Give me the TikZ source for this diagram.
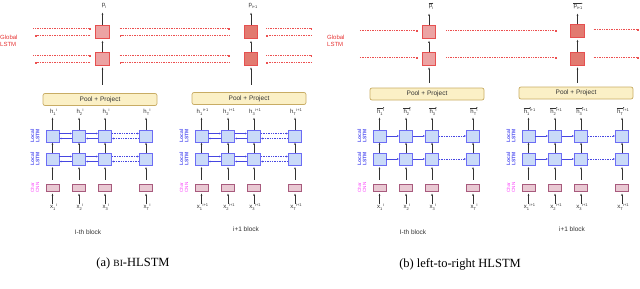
\documentclass[tikz,border=0pt]{standalone}
\usepackage{fontspec}
\setmainfont{Liberation Sans}
\newfontfamily\capfont{Liberation Serif}
\usetikzlibrary{arrows.meta,calc}
\definecolor{lstmF}{RGB}{201,218,248}
\definecolor{lstmB}{RGB}{108,108,245}
\definecolor{harC}{RGB}{70,70,225}
\definecolor{cnnF}{RGB}{233,201,211}
\definecolor{cnnB}{RGB}{168,90,125}
\definecolor{poolF}{RGB}{251,240,198}
\definecolor{poolB}{RGB}{200,172,100}
\definecolor{gFa}{RGB}{236,163,163}
\definecolor{gFb}{RGB}{226,122,112}
\definecolor{gB}{RGB}{230,80,80}
\definecolor{gLine}{RGB}{236,80,80}
\definecolor{locC}{RGB}{80,80,240}
\definecolor{chrC}{RGB}{250,60,250}
\definecolor{glbC}{RGB}{230,50,50}
\definecolor{txtC}{RGB}{50,50,50}
\newcommand\subx[1]{\raisebox{-1.3pt}{\fontsize{4}{4}\selectfont#1}}
\newcommand\supx[1]{\kern0.5pt\raisebox{2.3pt}{\fontsize{4}{4}\selectfont#1}}
\newcommand\slab[3]{#1\subx{#2}\supx{#3}}
\tikzset{
  lstm/.style={draw=lstmB,fill=lstmF,line width=0.8pt,minimum width=13pt,minimum height=12pt,inner sep=0pt},
  cnn/.style={draw=cnnB,fill=cnnF,line width=0.7pt,minimum width=13pt,minimum height=7pt,inner sep=0pt},
  pool/.style={draw=poolB,fill=poolF,line width=0.7pt,rounded corners=2pt,minimum width=114pt,minimum height=12pt,inner sep=0pt,font=\fontsize{6.5}{7}\selectfont,text=txtC},
  gboxa/.style={draw=gB,fill=gFa,line width=0.8pt,minimum width=13.5pt,minimum height=12.5pt,inner sep=0pt},
  gboxb/.style={draw=gB,fill=gFb,line width=0.8pt,minimum width=13.5pt,minimum height=12.5pt,inner sep=0pt},
  lab/.style={inner sep=0pt,font=\fontsize{6}{7}\selectfont,text=txtC},
  loclab/.style={inner sep=0pt,rotate=90,align=center,font=\fontsize{5}{5.4}\selectfont\bfseries,text=locC},
  chrlab/.style={inner sep=0pt,rotate=90,align=center,font=\fontsize{4.6}{5}\selectfont,text=chrC},
  glab/.style={inner sep=0pt,align=left,font=\fontsize{6}{6.8}\selectfont,text=glbC},
  blklab/.style={inner sep=0pt,font=\fontsize{6.5}{7}\selectfont,text=txtC},
  caplab/.style={inner sep=0pt,font=\capfont\fontsize{12.5}{14}\selectfont,text=black},
  varr/.style={draw=txtC,line width=0.5pt,-{Latex[length=2.2pt,width=1.8pt]}},
  vecar/.style={draw=txtC,line width=0.35pt,-{Latex[length=1.3pt,width=1.4pt]}},
  harr/.style={draw=harC,line width=0.6pt,-{Latex[length=2pt,width=2pt]}},
  hsolid/.style={},
  hdots/.style={dash pattern=on 1pt off 0.7pt},
  gdot/.style={draw=gLine,line width=0.9pt,dash pattern=on 1pt off 0.7pt,-{Square[length=1.6pt,width=1.8pt,fill=glbC]}},
}
% #1 prefix, #2 x0, #3 pool centre y, #4 superscript, #5 1=bi 0=left-to-right
\newcommand\hblock[5]{%
  \node[pool] (#1pool) at (#2+57,#3) {Pool + Project};
  \node[loclab] (#1lt) at (#2-8,136) {Local\\LSTM};
  \node[loclab] (#1lb) at (#2-8,159) {Local\\LSTM};
  \node[chrlab] (#1lc) at (#2-8,187.5) {Char\\CNN};
  \foreach \dx/\ci/\cs in {9.5/1/1,36/2/2,62/3/3,103/4/T}{
    \node[lstm] (#1t\ci) at (#2+\dx,136) {};
    \node[lstm] (#1b\ci) at (#2+\dx,159) {};
    \node[cnn] (#1c\ci) at (#2+\dx,187.5) {};
    \node[lab] (#1h\ci) at (#2+\dx+1,112) {\slab{h}{\cs}{#4}};
    \ifnum#5=0
      \draw[vecar] ([yshift=4.2pt]#1h\ci.west) -- ++(7.5,0);
    \fi
    \node[lab] (#1x\ci) at (#2+\dx+1,207) {\slab{x}{\cs}{#4}};
    \draw[varr,shorten >=2pt] (#1t\ci.north) -- (#1t\ci.north |- #1h\ci.south);
    \draw[varr] (#1b\ci.north) -- (#1t\ci.south);
    \draw[varr,shorten >=1.5pt] ([yshift=4pt]#1c\ci.north) -- (#1b\ci.south);
    \draw[varr,shorten >=2pt] (#1c\ci.south |- #1x\ci.north) -- (#1c\ci.south);
  }
  \foreach \r in {t,b}{
    \foreach \a/\b/\st in {1/2/hsolid,2/3/hsolid,3/4/hdots}{
      \ifnum#5=1
        \draw[harr,\st] ([yshift=2.5pt]#1\r\a.east) -- ([yshift=2.5pt]#1\r\b.west);
        \draw[harr,\st] ([yshift=-2.5pt]#1\r\b.west) -- ([yshift=-2.5pt]#1\r\a.east);
      \else
        \draw[harr,\st] (#1\r\a.east) -- (#1\r\b.west);
      \fi
    }
  }
}
\begin{document}
\begin{tikzpicture}[x=1pt,y=-1pt]
\useasboundingbox (0,0) rectangle (640,289);
% ---------------- panel (a)
\hblock{aL}{43}{99.5}{i}{1}
\hblock{aR}{192}{98.5}{i+1}{1}
\node[gboxa] (gA1) at (102.5,32) {};
\node[gboxa] (gA2) at (102.5,59) {};
\node[gboxb] (gB1) at (251,32) {};
\node[gboxb] (gB2) at (251,59) {};
\node[lab] (pA) at (104,6) {p\subx{i}};
\node[lab] (pB) at (253,6) {p\subx{i+1}};
\node[glab,anchor=west] (glA) at (0,41) {Global\\LSTM};
\foreach \g/\p in {A/pA,B/pB}{
  \draw[varr,shorten >=4pt] (g\g1.north) -- (g\g1.north |- \p.south);
  \draw[varr,shorten >=2pt] (g\g2.north) -- (g\g1.south);
  \draw[varr,shorten >=1.5pt] ([yshift=-19pt]g\g2.south) -- (g\g2.south);
}
\foreach \k in {1,2}{
  \draw[gdot] ([xshift=-62pt,yshift=3.5pt]gA\k.west) -- ([xshift=-5pt,yshift=3.5pt]gA\k.west);
  \draw[gdot] ([xshift=-5pt,yshift=-3.5pt]gA\k.west) -- ([xshift=-60pt,yshift=-3.5pt]gA\k.west);
  \draw[gdot,shorten <=10pt,shorten >=14pt] ([yshift=3.5pt]gA\k.east) -- ([yshift=3.5pt]gB\k.west);
  \draw[gdot,shorten <=14pt,shorten >=10pt] ([yshift=-3.5pt]gB\k.west) -- ([yshift=-3.5pt]gA\k.east);
  \draw[gdot] ([xshift=8pt,yshift=3.5pt]gB\k.east) -- ([xshift=54pt,yshift=3.5pt]gB\k.east);
  \draw[gdot] ([xshift=54pt,yshift=-3.5pt]gB\k.east) -- ([xshift=8pt,yshift=-3.5pt]gB\k.east);
}
\node[blklab] (blA1) at (88,232) {I-th block};
\node[blklab] (blA2) at (246,229) {i+1 block};
\node[caplab] (capA) at (133,263) {(a) {\fontsize{9.5}{10}\selectfont BI}-HLSTM};
% ---------------- panel (b)
\hblock{bL}{370}{94}{i}{0}
\hblock{bR}{519}{93}{i+1}{0}
\node[gboxa] (gC1) at (429,32) {};
\node[gboxa] (gC2) at (429,59) {};
\node[gboxb] (gD1) at (577.5,31) {};
\node[gboxb] (gD2) at (577.5,59) {};
\node[lab] (pC) at (431,7) {p\subx{i}};
\node[lab] (pD) at (578,7) {p\subx{i+1}};
\draw[vecar] ([yshift=3.6pt]pC.west) -- ([yshift=3.6pt]pC.east);
\draw[vecar] ([yshift=3.6pt]pD.west) -- ([yshift=3.6pt]pD.east);
\node[glab,anchor=west] (glB) at (327,41) {Global\\LSTM};
\foreach \g/\p in {C/pC,D/pD}{
  \draw[varr,shorten >=4pt] (g\g1.north) -- (g\g1.north |- \p.south);
  \draw[varr,shorten >=2pt] (g\g2.north) -- (g\g1.south);
  \draw[varr,shorten >=1.5pt] ([yshift=-17pt]g\g2.south) -- (g\g2.south);
}
\foreach \k in {1,2}{
  \draw[gdot] ([xshift=-62pt,yshift=1.5pt]gC\k.west) -- ([xshift=-4pt,yshift=1.5pt]gC\k.west);
  \draw[gdot,shorten <=10pt,shorten >=14pt] ([yshift=1.5pt]gC\k.east) -- ([yshift=1.5pt]gC\k.east -| gD\k.west);
  \draw[gdot] ([xshift=9pt,yshift=1.5pt]gD\k.east) -- ([xshift=54pt,yshift=1.5pt]gD\k.east);
}
\node[blklab] (blB1) at (413,232) {I-th block};
\node[blklab] (blB2) at (572,229) {i+1 block};
\node[caplab] (capB) at (460,264) {(b) left-to-right HLSTM};
\end{tikzpicture}
\end{document}
